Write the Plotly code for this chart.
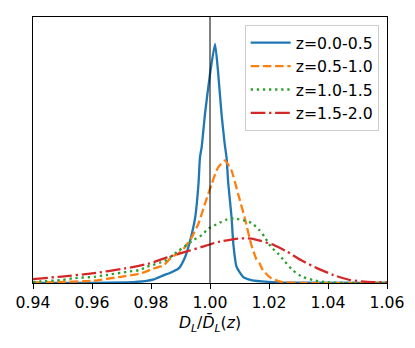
import plotly.graph_objects as go

# distributions of D_L / mean D_L per redshift bin (peak of first bin = 1)

labels = ["z=0.0-0.5", "z=0.5-1.0", "z=1.0-1.5", "z=1.5-2.0"]
colors = ["#1f77b4", "#ff7f0e", "#2ca02c", "#d62728"]
dashes = ["solid", "8.5px,3.7px", "2.3px,3.8px", "14.7px,3.7px,2.3px,3.7px"]

x_bin1 = [0.940, 0.960, 0.972, 0.978, 0.9810, 0.9844, 0.9860, 0.9894, 0.9916, 0.9933, 0.9950,
          0.9961, 0.9966, 0.9972, 0.9983, 1.0000, 1.0017, 1.0028, 1.0039, 1.0050,
          1.0056, 1.0062, 1.0073, 1.0079, 1.0090, 1.0112, 1.0140, 1.0196, 1.0274, 1.060]
y_bin1 = [0.0, 0.0, 0.003, 0.008, 0.015, 0.033, 0.040, 0.061, 0.110, 0.179, 0.276,
          0.415, 0.526, 0.570, 0.707, 0.874, 1.000, 0.874, 0.707, 0.580,
          0.526, 0.415, 0.276, 0.165, 0.068, 0.026, 0.0125, 0.005, 0.001, 0.0]

x_bin2 = [0.940, 0.9479, 0.9600, 0.9698, 0.9765, 0.9804, 0.9844, 0.9871, 0.9894, 0.9916,
          0.9939, 0.9961, 0.9983, 1.0006, 1.0026, 1.0050, 1.0073, 1.0095, 1.0117,
          1.0140, 1.0157, 1.0168, 1.0179, 1.0207, 1.0241, 1.0308, 1.060]
y_bin2 = [0.002, 0.004, 0.009, 0.026, 0.040, 0.058, 0.075, 0.110, 0.124, 0.151,
          0.193, 0.249, 0.332, 0.415, 0.480, 0.5125, 0.470, 0.374, 0.276,
          0.160, 0.100, 0.082, 0.054, 0.020, 0.005, 0.0, 0.0]

x_bin3 = [0.940, 0.9424, 0.9497, 0.9536, 0.9609, 0.9648, 0.9720, 0.9760, 0.9787, 0.9846,
          0.9894, 0.9939, 0.9972, 0.9995, 1.0028, 1.0056, 1.0084, 1.0140, 1.0168,
          1.0185, 1.0207, 1.0230, 1.0252, 1.0280, 1.0313, 1.0358, 1.0397, 1.0475, 1.060]
y_bin3 = [0.004, 0.007, 0.0125, 0.020, 0.026, 0.033, 0.047, 0.054, 0.068, 0.092,
          0.135, 0.176, 0.200, 0.228, 0.249, 0.265, 0.270, 0.252, 0.220,
          0.193, 0.151, 0.124, 0.092, 0.054, 0.026, 0.010, 0.003, 0.0, 0.0]

x_bin4 = [0.940, 0.9488, 0.9600, 0.9712, 0.9795, 0.9852, 0.9916, 0.9972, 1.0028, 1.0095,
          1.0140, 1.0173, 1.0218, 1.0263, 1.0308, 1.0364, 1.0419, 1.0475, 1.0532, 1.0586, 1.060]
y_bin4 = [0.016, 0.026, 0.040, 0.061, 0.082, 0.106, 0.130, 0.151, 0.172, 0.186,
          0.186, 0.176, 0.158, 0.130, 0.096, 0.061, 0.033, 0.0125, 0.005, 0.003, 0.002]

xs = [x_bin1, x_bin2, x_bin3, x_bin4]
ys = [y_bin1, y_bin2, y_bin3, y_bin4]

tick_vals = [0.94, 0.96, 0.98, 1.00, 1.02, 1.04, 1.06]
tick_text = ["0.94", "0.96", "0.98", "1.00", "1.02", "1.04", "1.06"]

fig = go.Figure()
for i in range(4):
    fig.add_trace(go.Scatter(
        x=xs[i], y=ys[i], mode="lines", name=labels[i],
        legendgroup=labels[i],
        line=dict(color=colors[i], width=2.3, dash=dashes[i], shape="spline", smoothing=0.5),
    ))

# reference line at 1
fig.add_shape(type="line", xref="x", yref="paper", x0=1.0, x1=1.0, y0=0, y1=1,
              line=dict(color="black", width=1))

# page body has an 8px margin, so the figure is 8px smaller and offset
fig.update_layout(
    width=407, height=340,
    margin=dict(l=21, r=28, t=8, b=65),
    paper_bgcolor="white", plot_bgcolor="white",
    font=dict(family="DejaVu Sans", size=15.7, color="black"),
    showlegend=True,
    legend=dict(x=0.598, y=0.97, xanchor="left", yanchor="top",
                bgcolor="rgba(255,255,255,0.8)", bordercolor="#cccccc", borderwidth=1,
                font=dict(size=15.7), traceorder="grouped", tracegroupgap=0,
                itemwidth=40, entrywidth=130, entrywidthmode="pixels"),
    xaxis=dict(range=[0.94, 1.06], tickvals=tick_vals, ticktext=tick_text,
               ticks="outside", ticklen=5, tickwidth=1, tickcolor="black",
               showline=True, linecolor="black", linewidth=1, mirror=True,
               showgrid=False, zeroline=False,
               title=dict(text="<i>D</i><sub><i>L</i></sub>/<i>D\u0304</i><sub><i>L</i></sub>(<i>z</i>)",
                          font=dict(size=15.7), standoff=6)),
    yaxis=dict(range=[0, 1.1125], showticklabels=False, ticks="",
               showline=True, linecolor="black", linewidth=1, mirror=True,
               showgrid=False, zeroline=False),
)

fig.write_html("out.html")
